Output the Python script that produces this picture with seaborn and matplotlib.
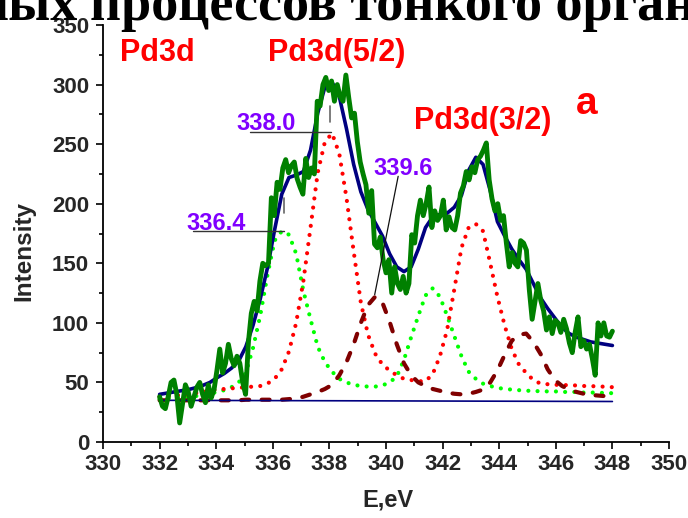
import numpy as np
import pandas as pd
import matplotlib
matplotlib.use("Agg")
import matplotlib.pyplot as plt
from matplotlib.ticker import MultipleLocator
import seaborn as sns

# ---------------- data ----------------
intensity = [
    38, 30, 28, 38, 50, 52, 40, 16, 32, 48,
    42, 30, 38, 46, 50, 40, 33, 48, 37, 44,
    60, 78, 58, 66, 82, 70, 64, 72, 66, 50,
    40, 84, 108, 118, 110, 135, 150, 148, 150, 205,
    190, 218, 212, 230, 237, 226, 232, 235, 221, 214,
    208, 238, 222, 230, 225, 286, 282, 300, 306, 295,
    303, 286, 300, 290, 286, 308, 289, 272, 276, 252,
    235, 225, 216, 192, 211, 166, 163, 172, 153, 142,
    153, 125, 147, 133, 128, 139, 125, 133, 174, 167,
    190, 203, 190, 200, 214, 180, 194, 186, 190, 203,
    178, 189, 180, 178, 190, 209, 215, 227, 220, 231,
    226, 237, 240, 245, 251, 220, 204, 194, 200, 186,
    190, 167, 147, 159, 150, 147, 169, 167, 161, 128,
    103, 118, 133, 119, 110, 94, 105, 91, 102, 100,
    92, 103, 95, 83, 75, 92, 105, 80, 85, 78,
    82, 70, 56, 100, 89, 100, 89, 88, 93]
E_data = np.linspace(332.0, 348.0, len(intensity))

envelope = [40, 41, 42, 43, 44, 45.5, 47.5, 50, 54, 57.5, 62, 68, 80, 98, 120, 146,
            178, 208, 222, 224, 227, 245, 276, 298, 302, 290, 263, 233, 210, 195, 184, 173,
            158, 147, 143, 147, 162, 180, 189, 191, 192, 197, 207, 228, 239, 233, 211, 185,
            173, 162, 153, 145, 133, 121, 112, 104, 96, 91, 88, 86, 84, 83, 82, 81]
comp_green = [36, 36.5, 37, 37.5, 38, 38.5, 39.5, 40.5, 42, 43.5, 46, 50, 58, 79, 106, 140,
              169, 177, 174, 158, 127, 103, 80, 67, 59, 53, 50, 48, 47, 46.5, 46.5, 47.5,
              50, 55, 69, 88, 106, 123, 129, 122, 106, 89, 72, 59, 53, 49, 47, 45.5,
              44.5, 44, 43.5, 43, 43, 42.5, 42.5, 42.5, 42, 42, 42, 41.5, 41.5, 41.5, 41, 41]
comp_red = [38, 38.5, 39, 39.5, 40, 41, 42, 43, 44, 44.5, 45, 45.5, 46, 46.5, 47, 49,
            53, 61, 76, 100, 135, 180, 226, 252, 259, 242, 205, 160, 117, 90, 74, 65,
            60, 56, 53, 52, 51, 51, 57, 72, 94, 128, 163, 180, 183, 177, 150, 122,
            98, 78, 65, 58, 52, 49, 48.5, 48, 48, 47.5, 47.5, 47, 47, 46.5, 46.5, 46]
comp_darkred = [35, 35, 35, 35, 35, 35, 35, 35, 35, 35, 35, 35, 35.5, 35.5, 35.5, 35.5,
                35.5, 35.5, 36, 36.5, 38, 40, 42, 44.5, 48, 56, 67, 82, 100, 115, 122, 117,
                101, 82, 66, 56, 50, 47, 44.5, 43, 41.5, 40.5, 40, 40.5, 42, 44, 50, 60,
                73, 85, 90, 91, 84, 74, 61, 52, 47, 44, 42, 40.5, 39.5, 39, 38.5, 38]
E_fit = np.linspace(332.0, 348.0, len(envelope))
E_base = [332, 348]
base = [35, 34]

peak_labels = ["338.0", "336.4", "339.6"]

# ---------------- style ----------------
sns.set_style("ticks")
plt.rcParams["font.family"] = ["Liberation Sans", "DejaVu Sans"]
plt.rcParams["font.weight"] = "bold"

fig = plt.figure(figsize=(6.88, 5.18), dpi=100)
ax = fig.add_axes([103 / 688, 1 - 442 / 518, 566 / 688, 417 / 518])

dot = dict(linestyle=(0, (0.01, 2.2)), dash_capstyle="round")
sns.lineplot(x=E_fit, y=comp_green, ax=ax, color="#00ff00", lw=3.0, errorbar=None, zorder=2, **dot)
sns.lineplot(x=E_fit, y=comp_red, ax=ax, color="#ff0000", lw=3.0, errorbar=None, zorder=2, **dot)
sns.lineplot(x=E_fit, y=comp_darkred, ax=ax, color="#800000", lw=3.0, errorbar=None, zorder=2,
             linestyle=(0, (1.9, 3.0)), dash_capstyle="round")
sns.lineplot(x=E_base, y=base, ax=ax, color="#000080", lw=1.2, errorbar=None, zorder=2)
sns.lineplot(x=E_fit, y=envelope, ax=ax, color="#000080", lw=2.6, errorbar=None, zorder=3)
sns.lineplot(x=E_data, y=intensity, ax=ax, color="#008000", lw=3.5, errorbar=None, zorder=4)

ax.set_xlim(330, 350)
ax.set_ylim(0, 350)
ax.xaxis.set_major_locator(MultipleLocator(2))
ax.xaxis.set_minor_locator(MultipleLocator(1))
ax.yaxis.set_major_locator(MultipleLocator(50))
ax.yaxis.set_minor_locator(MultipleLocator(25))
ax.tick_params(which="major", direction="out", length=5, width=1.2, labelsize=16, color="black")
ax.tick_params(which="minor", direction="out", length=3, width=1.2, color="black")
ax.tick_params(axis="y", pad=5)
ax.tick_params(axis="x", pad=4)
for s in ("top", "right"):
    ax.spines[s].set_visible(False)
for s in ("left", "bottom"):
    ax.spines[s].set_linewidth(1.3)
    ax.spines[s].set_color("black")
ax.set_xlabel("")
ax.set_ylabel("")

ax.text(-0.139, 0.458, "Intensity", transform=ax.transAxes, rotation=90,
        ha="center", va="center", fontsize=17.5, fontweight="bold")
ax.text(0.504, -0.139, "E,eV", transform=ax.transAxes,
        ha="center", va="center", fontsize=17, fontweight="bold")

# red labels
red_kw = dict(color="#ff0000", fontsize=22, fontweight="bold", va="baseline", clip_on=False)
ax.text(330.6, 319.6, "Pd3d", ha="left", **red_kw)
ax.text(338.25, 319.6, "Pd3d(5/2)", ha="center", **red_kw)
ax.text(343.4, 262.4, "Pd3d(3/2)", ha="center", **red_kw)
ax.text(347.1, 275, "a", ha="center", color="#ff0000", fontsize=28, fontweight="bold",
        va="baseline", clip_on=False)

# peak position labels with leader lines
purple = "#8000ff"
lab_kw = dict(color=purple, fontsize=17, fontweight="bold", ha="center", va="center", zorder=6)
ax.text(335.77, 267.5, peak_labels[0], **lab_kw)
ax.plot([335.2, 338.05], [260, 260], color="#333333", lw=1.0, zorder=5)
ax.plot([338.02, 338.02], [269, 282], color="#666666", lw=1.2, zorder=5)
ax.text(334.0, 183, peak_labels[1], **lab_kw)
ax.plot([333.18, 336.4], [177, 177], color="#333333", lw=1.0, zorder=5)
ax.plot([336.39, 336.39], [192.6, 205], color="#666666", lw=1.2, zorder=5)
ax.text(340.6, 229.6, peak_labels[2], **lab_kw)
ax.plot([340.43, 339.6], [223, 123.6], color="#111111", lw=0.9, zorder=5)

# clipped heading of the source page
title_kw = dict(fontfamily=["Liberation Serif", "DejaVu Serif"], fontweight="bold",
                fontsize=39, color="black", va="baseline")
fig.text(78 / 688, 1 - 20 / 518, "ных", ha="right", **title_kw)
fig.text(90 / 688, 1 - 20 / 518, "процессов тонкого органи", ha="left", **title_kw)

fig.savefig("out.png", dpi=100)
